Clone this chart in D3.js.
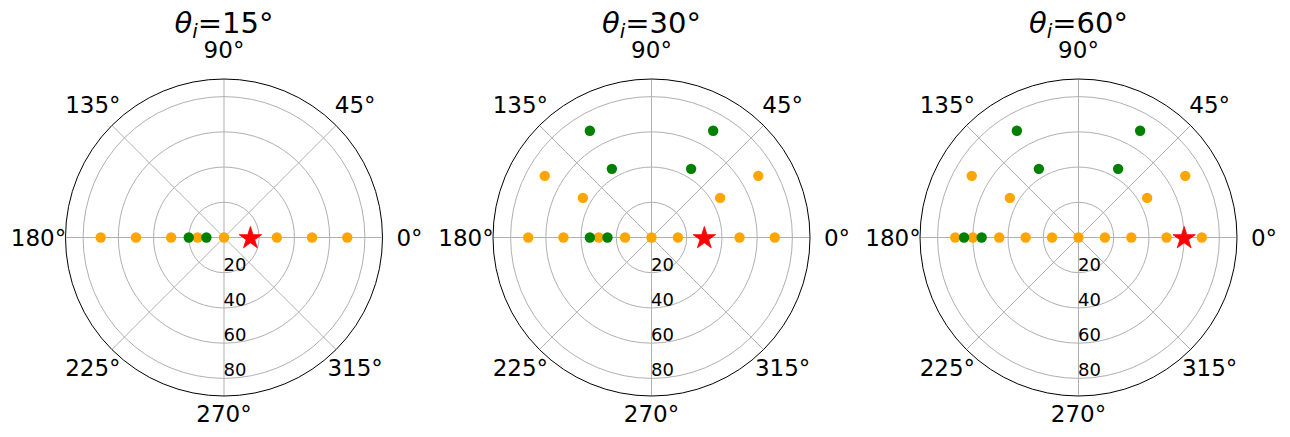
<!DOCTYPE html>
<html>
<head>
<meta charset="utf-8">
<script src="https://cdn.jsdelivr.net/npm/d3@7"></script>
<style>
  html, body { margin: 0; padding: 0; background: #ffffff; }
  svg { display: block; }
  text { font-family: "DejaVu Sans", sans-serif; fill: #000; }
</style>
</head>
<body>
<svg id="chart" width="1290" height="437"></svg>
<script>
// Incidence angle of each panel
const incidenceAngles = [15, 30, 60];

// Axis ticks
const thetaTicks = [0, 45, 90, 135, 180, 225, 270, 315];
const radialTicks = [20, 40, 60, 80];
const radialMax = 90;

// Points as [theta (deg), r] for each panel
const orangePoints15 = [[0, 0], [0, 30], [0, 50], [0, 70], [180, 15], [180, 30], [180, 50], [180, 70]];
const greenPoints15 = [[180, 10], [180, 20]];
const starPoint15 = [0, 15];

const orangePoints30 = [[0, 0], [0, 15], [0, 50], [0, 70], [180, 15], [180, 30], [180, 50], [180, 70],
                        [30, 45], [30, 70], [150, 45], [150, 70]];
const greenPoints30 = [[180, 25], [180, 35], [60, 45], [60, 70], [120, 45], [120, 70]];
const starPoint30 = [0, 30];

const orangePoints60 = [[0, 0], [0, 15], [0, 30], [0, 50], [0, 70], [180, 15], [180, 30], [180, 45], [180, 60], [180, 70],
                        [30, 45], [30, 70], [150, 45], [150, 70]];
const greenPoints60 = [[180, 55], [180, 65], [60, 45], [60, 70], [120, 45], [120, 70]];
const starPoint60 = [0, 60];

const panels = [
  { inc: incidenceAngles[0], orange: orangePoints15, green: greenPoints15, star: starPoint15 },
  { inc: incidenceAngles[1], orange: orangePoints30, green: greenPoints30, star: starPoint30 },
  { inc: incidenceAngles[2], orange: orangePoints60, green: greenPoints60, star: starPoint60 }
];

// Layout
const centersX = [224, 651.5, 1078.5];
const centerY = 237.5;
const outerRadius = 158.5;

const svg = d3.select("#chart");

const rScale = d3.scaleLinear().domain([0, radialMax]).range([0, outerRadius]);
const thetaScale = d3.scaleLinear().domain([0, 360]).range([0, 2 * Math.PI]);

// Polar -> cartesian, theta counter-clockwise from east
function toXY(thetaDeg, r) {
  const a = thetaScale(thetaDeg);
  const d = rScale(r);
  return [d * Math.cos(a), -d * Math.sin(a)];
}

// Five-pointed star path
function starPath(R) {
  const inner = R * 0.381966;
  const pts = [];
  for (let i = 0; i < 10; i++) {
    const rad = i % 2 === 0 ? R : inner;
    const a = -Math.PI / 2 + i * Math.PI / 5;
    pts.push([rad * Math.cos(a), rad * Math.sin(a)]);
  }
  return d3.line()(pts) + "Z";
}

panels.forEach((p, idx) => {
  const g = svg.append("g").attr("transform", `translate(${centersX[idx]},${centerY})`);

  // Radial grid circles
  g.selectAll("circle.ring")
    .data(radialTicks)
    .join("circle")
    .attr("class", "ring")
    .attr("r", d => rScale(d))
    .attr("fill", "none")
    .attr("stroke", "#b0b0b0")
    .attr("stroke-width", 1);

  // Angular grid lines
  g.selectAll("line.spoke")
    .data(thetaTicks)
    .join("line")
    .attr("class", "spoke")
    .attr("x1", 0).attr("y1", 0)
    .attr("x2", d => toXY(d, radialMax)[0])
    .attr("y2", d => toXY(d, radialMax)[1])
    .attr("stroke", "#b0b0b0")
    .attr("stroke-width", 1);

  // Outer frame
  g.append("circle")
    .attr("r", rScale(radialMax))
    .attr("fill", "none")
    .attr("stroke", "#000")
    .attr("stroke-width", 1);

  // Angle labels around the rim
  g.selectAll("text.theta")
    .data(thetaTicks)
    .join("text")
    .attr("class", "theta")
    .attr("text-anchor", "middle")
    .attr("font-size", 23)
    .attr("x", d => 185.5 * Math.cos(thetaScale(d)))
    .attr("y", d => {
      const a = thetaScale(d);
      const s = Math.sin(a);
      const dist = 182 + 4.5 * Math.pow(Math.sin(2 * a), 2);
      const lift = 5.5 * Math.pow(s, 4);
      return -dist * s - lift + 8.4;
    })
    .text(d => d + "°");

  // Radial labels along 270°
  g.selectAll("text.rlabel")
    .data(radialTicks)
    .join("text")
    .attr("class", "rlabel")
    .attr("text-anchor", "start")
    .attr("font-size", 18)
    .attr("x", -0.5)
    .attr("y", d => rScale(d) - 2)
    .text(d => d);

  // Orange points
  g.selectAll("circle.orange")
    .data(p.orange)
    .join("circle")
    .attr("class", "orange")
    .attr("cx", d => toXY(d[0], d[1])[0])
    .attr("cy", d => toXY(d[0], d[1])[1])
    .attr("r", 5.2)
    .attr("fill", "orange");

  // Green points
  g.selectAll("circle.green")
    .data(p.green)
    .join("circle")
    .attr("class", "green")
    .attr("cx", d => toXY(d[0], d[1])[0])
    .attr("cy", d => toXY(d[0], d[1])[1])
    .attr("r", 5.2)
    .attr("fill", "green");

  // Specular direction marker
  const sp = toXY(p.star[0], p.star[1]);
  g.append("path")
    .attr("d", starPath(11.8))
    .attr("transform", `translate(${sp[0]},${sp[1] + 0.8})`)
    .attr("fill", "red")
    .attr("stroke", "red")
    .attr("stroke-width", 0.8)
    .attr("stroke-linejoin", "miter");

  // Title
  const title = svg.append("text")
    .attr("x", centersX[idx])
    .attr("y", 33.3)
    .attr("text-anchor", "middle")
    .attr("font-size", 29);
  title.append("tspan").attr("font-style", "italic").text("θ");
  title.append("tspan").attr("font-style", "italic").attr("font-size", 20).attr("dy", 4.5).text("i");
  title.append("tspan").attr("dy", -4.5).text("=" + p.inc + "°");
});
</script>
</body>
</html>
